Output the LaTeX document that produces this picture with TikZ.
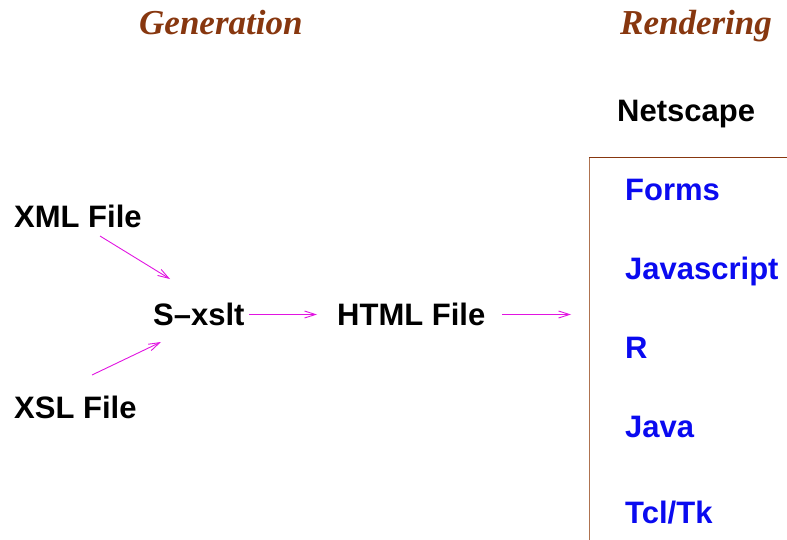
\documentclass[tikz,border=0pt]{standalone}
\usepackage{fontspec}
\setmainfont{Liberation Sans}
\newfontfamily\titlefont{Liberation Serif}
\usetikzlibrary{arrows.meta}
\definecolor{titlebrown}{RGB}{135,55,15}
\definecolor{boxside}{RGB}{175,115,80}
\definecolor{arrmag}{RGB}{225,20,225}
\definecolor{itemblue}{RGB}{10,10,240}
\tikzset{
  lbl/.style={anchor=base west, inner sep=0pt, font=\fontsize{31}{36}\selectfont\bfseries},
  item/.style={lbl, text=itemblue},
  ttl/.style={anchor=base west, inner sep=0pt, text=titlebrown, font=\titlefont\fontsize{35}{40}\selectfont\bfseries\itshape},
  flow/.style={draw=arrmag, line width=0.9pt, -{Straight Barb[length=11pt,width=7pt,line width=0.9pt]}},
}
\begin{document}
\begin{tikzpicture}[x=1pt,y=-1pt]
\useasboundingbox (0,0) rectangle (787,540);
% titles
\node[ttl] (gen) at (139,35) {Generation};
\node[ttl] (ren) at (620,35) {Rendering};
% browser
\node[lbl] (net) at (617,122) {Netscape};
\draw[boxside, line width=1.3pt] (589.5,540) -- (589.5,157.5);
\draw[titlebrown, line width=1.3pt] (588.85,157.5) -- (787,157.5);
\node[item] (forms) at (625,201) {Forms};
\node[item] (js) at (625,279) {Javascript};
\node[item] (r) at (625,358) {R};
\node[item] (java) at (625,437) {Java};
\node[item] (tcl) at (625,523) {Tcl/Tk};
% generation
\node[lbl] (xml) at (14,227) {XML File};
\node[lbl] (xsl) at (14,418) {XSL File};
\node[lbl] (xslt) at (153,325) {S--xslt};
\node[lbl] (html) at (337,325) {HTML File};
% connector ends
\coordinate (xmlS) at (100,236);
\coordinate (xmlE) at (170,279);
\coordinate (xslS) at (92,375);
\coordinate (xslE) at (161,342);
\coordinate (xsltS) at (249,314.5);
\coordinate (htmlE) at (317,314.5);
\coordinate (htmlS) at (502,314.5);
\coordinate (boxE) at (571,314.5);
\draw[flow] (xmlS) -- (xmlE);
\draw[flow] (xslS) -- (xslE);
\draw[flow] (xsltS) -- (htmlE);
\draw[flow] (htmlS) -- (boxE);
\end{tikzpicture}
\end{document}
